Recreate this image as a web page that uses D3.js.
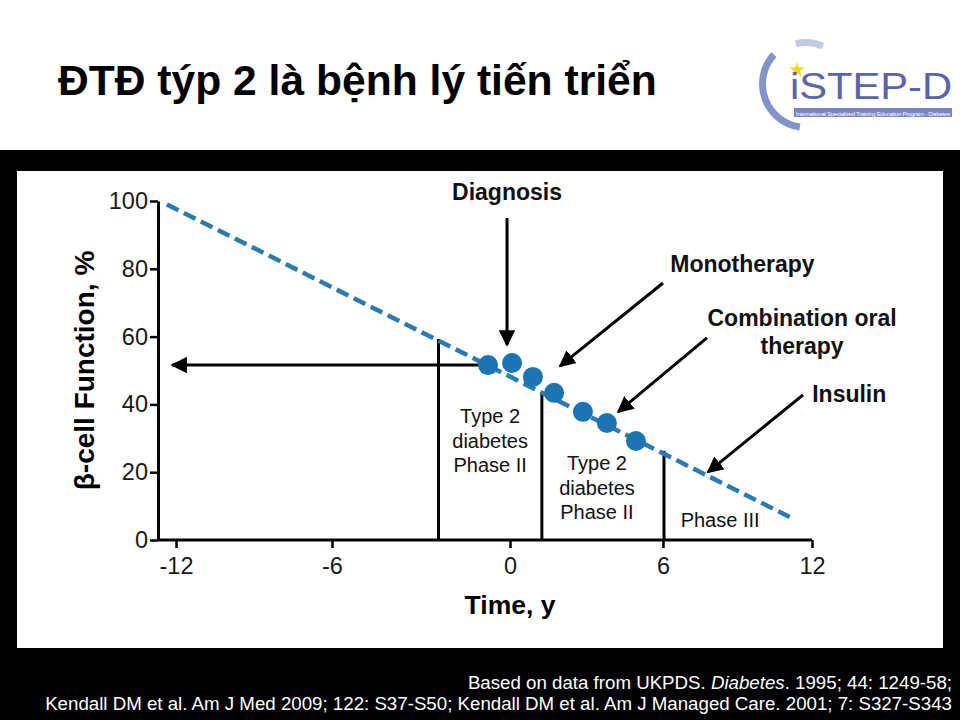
<!DOCTYPE html>
<html>
<head>
<meta charset="utf-8">
<script src="https://cdn.jsdelivr.net/npm/d3@7"></script>
<style>
  body { margin: 0; background: #fff; }
  svg text { font-family: "Liberation Sans", Arial, sans-serif; }
</style>
</head>
<body>
<script>
// chart values
var xTicks = [-12, -6, 0, 6, 12];
var yTicks = [0, 20, 40, 60, 80, 100];

// dashed decline of beta-cell function (years, %)
var trendLine = [[-12.35, 99], [11.1, 6.8]];

// measured points (years, %)
var betaPoints = [
  [-0.74, 51.6], [0.08, 52.2], [0.9, 48.1], [1.73, 43.4],
  [2.86, 37.8], [3.8, 34.5], [4.94, 29.2]
];

// vertical phase dividers: year, top value
var phaseLines = [[-2.41, 59.3], [1.25, 43.7], [6.04, 26.3]];

// horizontal arrow back in time
var backArrow = [[-1.0, 51.6], [-12.15, 51.6]];

// phase labels: year, value, lines
var phaseLabels = [
  {t: -0.67, v: 34.5, lines: ["Type 2", "diabetes", "Phase II"]},
  {t: 3.41, v: 20.6, lines: ["Type 2", "diabetes", "Phase II"]},
  {t: 8.3, v: 3.9, lines: ["Phase III"]}
];

// therapy annotations: label lines, label anchor, arrow from, arrow to
var annotations = [
  {lines: ["Diagnosis"], at: [-0.1, 100.4], from: [-0.1, 95], to: [-0.1, 57.5]},
  {lines: ["Monotherapy"], at: [9.2, 79.0], from: [6.0, 75.8], to: [1.96, 51.3]},
  {lines: ["Combination oral", "therapy"], at: [11.6, 63.2], from: [7.77, 59.6], to: [4.24, 37.8]},
  {lines: ["Insulin"], at: [13.5, 40.6], from: [11.64, 42.8], to: [7.81, 20.0]}
];

var title = "ĐTĐ týp 2 là bệnh lý tiến triển";
var yLabel = "β-cell Function, %";
var xLabel = "Time, y";

var W = 960, H = 720;
var svg = d3.select("body").append("svg")
  .attr("width", W)
  .attr("height", H);

// slide background
svg.append("rect").attr("x", 0).attr("y", 150).attr("width", W).attr("height", H - 150).attr("fill", "#000");
svg.append("rect").attr("x", 17).attr("y", 171).attr("width", 926).attr("height", 477).attr("fill", "#fff");

// title
svg.append("text")
  .attr("x", 58).attr("y", 95)
  .style("font-size", "42.6px")
  .style("font-weight", "bold")
  .attr("fill", "#000")
  .text(title);

// logo
function drawLogo() {
  var g = svg.append("g");
  var arc = d3.arc();
  g.append("path")
    .attr("transform", "translate(806,84)")
    .attr("d", arc({innerRadius: 40, outerRadius: 47, startAngle: -0.83, endAngle: -3.0}))
    .attr("fill", "#8593cd");
  g.append("path")
    .attr("transform", "translate(806,84)")
    .attr("d", arc({innerRadius: 38, outerRadius: 45, startAngle: -0.25, endAngle: 0.42}))
    .attr("fill", "#c3cbe3");
  g.append("path")
    .attr("d", d3.symbol(d3.symbolStar, 70)())
    .attr("transform", "translate(797,70)")
    .attr("fill", "#f5d90a");
  g.append("text")
    .attr("x", 790).attr("y", 99)
    .style("font-size", "37px")
    .attr("fill", "#5a63ad")
    .attr("textLength", 162)
    .attr("lengthAdjust", "spacingAndGlyphs")
    .text("iSTEP-D");
  g.append("rect").attr("x", 794).attr("y", 108).attr("width", 158).attr("height", 9).attr("fill", "#7a86c4");
  g.append("text")
    .attr("x", 796).attr("y", 115.5)
    .style("font-size", "6px")
    .attr("fill", "#fff")
    .attr("textLength", 154)
    .text("International Specialized Training Education Program - Diabetes");
}
drawLogo();

// scales (the original axis is not evenly spaced)
var x = d3.scaleLinear()
  .domain([-12, -6, 0, 6, 12])
  .range([176, 332, 510, 663, 812]);
var y = d3.scaleLinear()
  .domain([0, 100])
  .range([540, 201]);

// axes
var yAxis = svg.append("g")
  .attr("transform", "translate(158,0)")
  .call(d3.axisLeft(y).tickValues(yTicks).tickFormat(function(d) { return String(d); })
    .tickSize(8).tickPadding(2).tickSizeOuter(0));
var xAxis = svg.append("g")
  .attr("transform", "translate(0,540)")
  .call(d3.axisBottom(x).tickValues(xTicks).tickFormat(function(d) { return String(d); })
    .tickSize(8).tickPadding(9).tickSizeOuter(0));

[yAxis, xAxis].forEach(function(a) {
  a.select(".domain").attr("stroke", "#000").attr("stroke-width", 3);
  a.selectAll(".tick line").attr("stroke", "#000").attr("stroke-width", 2.5);
  a.selectAll(".tick text")
    .attr("fill", "#1a1a1a")
    .style("font-size", "23.5px")
    .style("font-family", "'Liberation Sans', Arial, sans-serif");
});
// extend x axis back to the y axis
xAxis.select(".domain").attr("d", "M158,0H" + x(12));

// axis titles
svg.append("text")
  .attr("x", x(0)).attr("y", 614)
  .attr("text-anchor", "middle")
  .style("font-size", "26.5px").style("font-weight", "bold")
  .text(xLabel);
svg.append("text")
  .attr("transform", "translate(94," + y(50) + ") rotate(-90)")
  .attr("text-anchor", "middle")
  .style("font-size", "28px").style("font-weight", "bold")
  .text(yLabel);

// arrow marker
svg.append("defs").append("marker")
  .attr("id", "head")
  .attr("viewBox", "0 0 10 10")
  .attr("refX", 9).attr("refY", 5)
  .attr("markerWidth", 5.5).attr("markerHeight", 5.5)
  .attr("markerUnits", "strokeWidth")
  .attr("orient", "auto")
  .append("path")
  .attr("d", "M0,0L10,5L0,10Z")
  .attr("fill", "#000");

// phase dividers
svg.selectAll(".phase")
  .data(phaseLines)
  .enter().append("line")
  .attr("class", "phase")
  .attr("x1", function(d) { return x(d[0]); })
  .attr("x2", function(d) { return x(d[0]); })
  .attr("y1", function(d) { return y(d[1]); })
  .attr("y2", y(0))
  .attr("stroke", "#000").attr("stroke-width", 3);

// horizontal arrow
svg.append("line")
  .attr("x1", x(backArrow[0][0])).attr("y1", y(backArrow[0][1]))
  .attr("x2", x(backArrow[1][0])).attr("y2", y(backArrow[1][1]))
  .attr("stroke", "#000").attr("stroke-width", 3)
  .attr("marker-end", "url(#head)");

// dashed trend
svg.append("path")
  .datum(trendLine)
  .attr("d", d3.line().x(function(d) { return x(d[0]); }).y(function(d) { return y(d[1]); }))
  .attr("fill", "none")
  .attr("stroke", "#2a7bb0")
  .attr("stroke-width", 4.5)
  .attr("stroke-dasharray", "13,6");

// points
svg.selectAll(".pt")
  .data(betaPoints)
  .enter().append("circle")
  .attr("class", "pt")
  .attr("cx", function(d) { return x(d[0]); })
  .attr("cy", function(d) { return y(d[1]); })
  .attr("r", 10)
  .attr("fill", "#1b75b4");

// phase labels
phaseLabels.forEach(function(p) {
  var t = svg.append("text")
    .attr("text-anchor", "middle")
    .style("font-size", "20px")
    .attr("fill", "#111");
  p.lines.forEach(function(l, i) {
    t.append("tspan")
      .attr("x", x(p.t))
      .attr("y", y(p.v) + i * 24.5)
      .text(l);
  });
});

// therapy arrows and labels
annotations.forEach(function(a) {
  svg.append("line")
    .attr("x1", x(a.from[0])).attr("y1", y(a.from[1]))
    .attr("x2", x(a.to[0])).attr("y2", y(a.to[1]))
    .attr("stroke", "#000").attr("stroke-width", 3)
    .attr("marker-end", "url(#head)");
  var t = svg.append("text")
    .attr("text-anchor", "middle")
    .style("font-size", "23px").style("font-weight", "bold")
    .attr("fill", "#111");
  a.lines.forEach(function(l, i) {
    t.append("tspan")
      .attr("x", x(a.at[0]))
      .attr("y", y(a.at[1]) + i * 28)
      .text(l);
  });
});

// source footnote
var foot = svg.append("text")
  .attr("text-anchor", "end")
  .style("font-size", "18.7px")
  .attr("fill", "#fff");
var l1 = foot.append("tspan").attr("x", 952).attr("y", 689);
l1.append("tspan").text("Based on data from UKPDS. ");
l1.append("tspan").style("font-style", "italic").text("Diabetes");
l1.append("tspan").text(". 1995; 44: 1249-58;");
foot.append("tspan").attr("x", 952).attr("y", 710)
  .text("Kendall DM et al. Am J Med 2009; 122: S37-S50; Kendall DM et al. Am J Managed Care. 2001; 7: S327-S343");
</script>
</body>
</html>
